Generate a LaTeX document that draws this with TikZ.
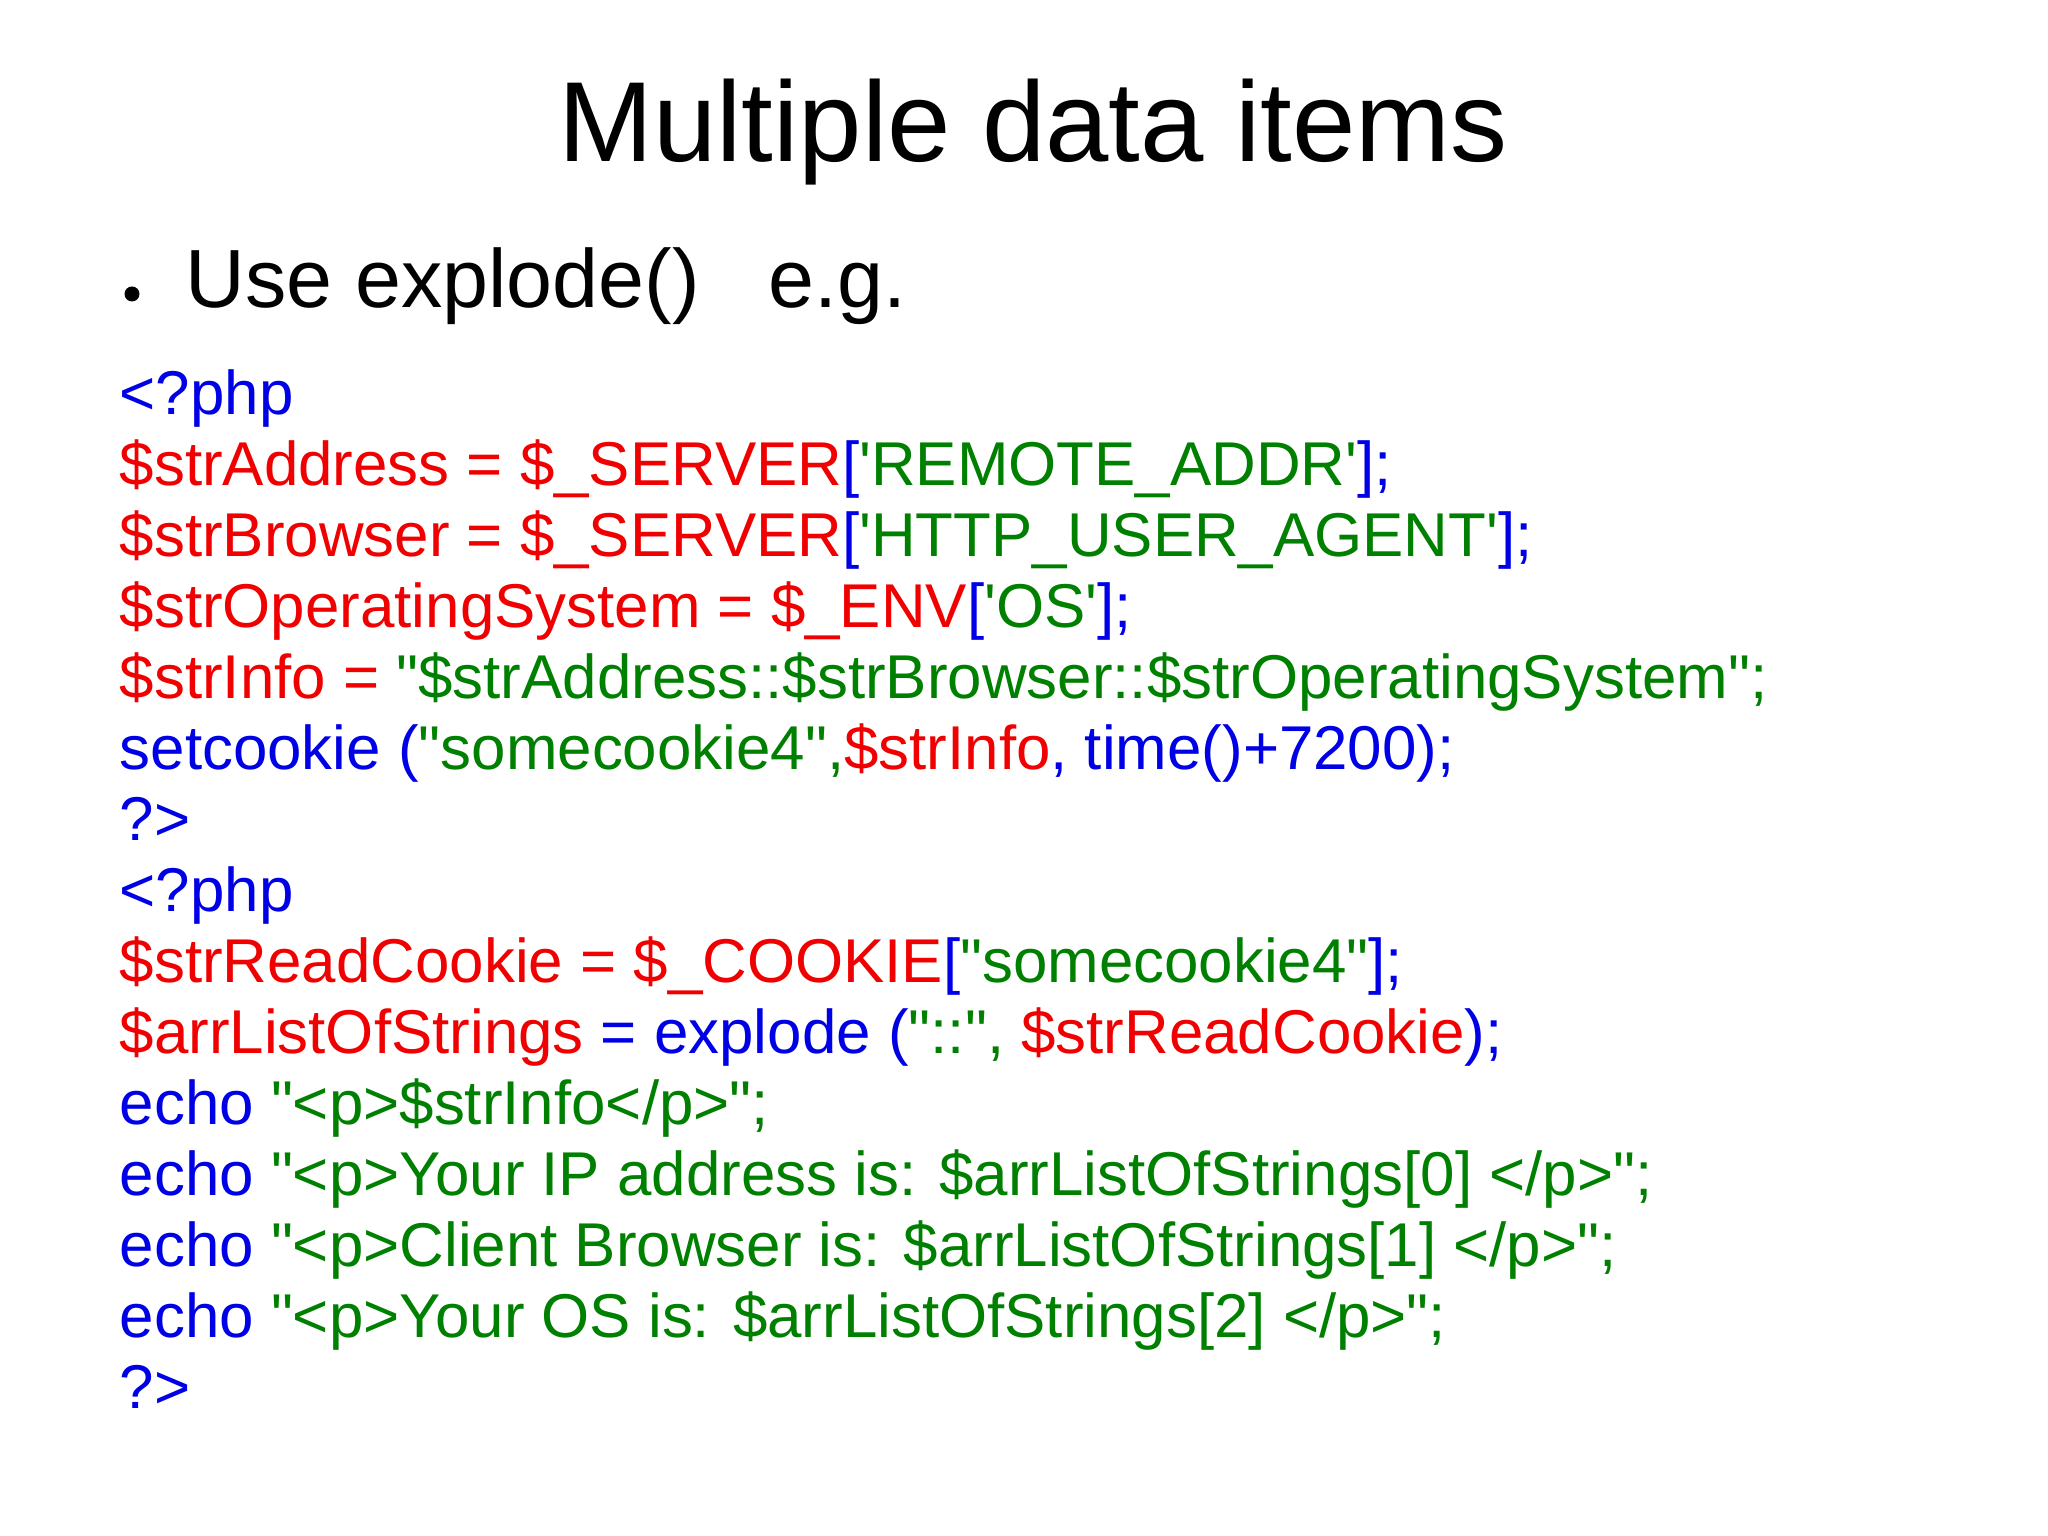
\documentclass[tikz,border=0pt]{standalone}
\usepackage{fontspec}
\setmainfont{Liberation Sans}[Ligatures=TeXOff]
\definecolor{cr}{RGB}{240,0,0}
\definecolor{cg}{RGB}{0,128,0}
\definecolor{cb}{RGB}{0,0,230}
\newcommand{\R}[1]{\textcolor{cr}{#1}}
\newcommand{\G}[1]{\textcolor{cg}{#1}}
\newcommand{\B}[1]{\textcolor{cb}{#1}}
\begin{document}
\begin{tikzpicture}[x=1cm,y=1cm,
  codeline/.style={anchor=base west,inner sep=0pt,font=\fontsize{17.6}{20}\selectfont}]
\useasboundingbox[fill=white] (0,0) rectangle (20.48,15.36);
\node[anchor=base,inner sep=0pt,font=\fontsize{32.4}{40}\selectfont] (title) at (10.33,13.74) {Multiple data items};
\fill (1.32,12.42) circle (0.075);
\node[anchor=base west,inner sep=0pt,font=\fontsize{23.5}{28}\selectfont] (bullet) at (1.85,12.28) {Use explode()\ \ \ e.g.};
\foreach \i/\t in {
0/{\B{<?php}},
1/{\R{\$strAddress = \$\_SERVER}\B{[}\G{'REMOTE\_ADDR'}\B{];}},
2/{\R{\$strBrowser = \$\_SERVER}\B{[}\G{'HTTP\_USER\_AGENT'}\B{];}},
3/{\R{\$strOperatingSystem = \$\_ENV}\B{[}\G{'OS'}\B{];}},
4/{\R{\$strInfo = }\G{"\$strAddress::\$strBrowser::\$strOperatingSystem";}},
5/{\B{setcookie (}\G{"somecookie4",}\R{\$strInfo}\B{, time()+7200);}},
6/{\B{?>}},
7/{\B{<?php}},
8/{\R{\$strReadCookie = \$\_COOKIE}\B{[}\G{"somecookie4"}\B{];}},
9/{\R{\$arrListOfStrings}\B{\ = explode (}\G{"::",}\R{\ \$strReadCookie}\B{);}},
10/{\B{echo }\G{"<p>\$strInfo</p>";}},
11/{\B{echo }\G{"<p>Your IP address is: \$arrListOfStrings[0] </p>";}},
12/{\B{echo }\G{"<p>Client Browser is: \$arrListOfStrings[1] </p>";}},
13/{\B{echo }\G{"<p>Your OS is: \$arrListOfStrings[2] </p>";}},
14/{\B{?>}}}
  \node[codeline] (l\i) at (1.19,{15.36-4.15-0.71*\i}) {\t};
\end{tikzpicture}
\end{document}
